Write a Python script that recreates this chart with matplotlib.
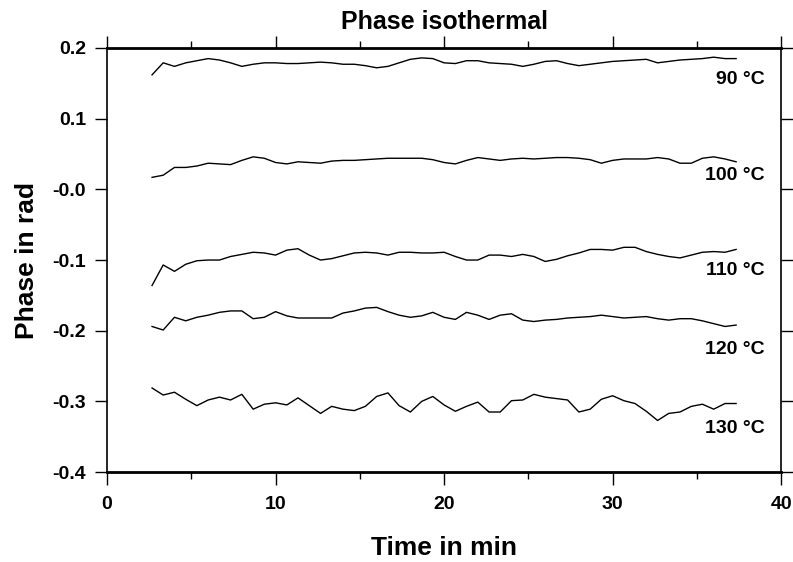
import matplotlib
matplotlib.use('Agg')
import matplotlib.pyplot as plt
from matplotlib.ticker import FixedLocator, FixedFormatter, MultipleLocator

plt.rcParams['font.family'] = ['Liberation Sans', 'DejaVu Sans']
plt.rcParams['font.weight'] = 'bold'

# Time axis (min), one sample every 40 s
time_min = [2.67, 3.33, 4.00, 4.67, 5.33, 6.00, 6.67, 7.33, 8.00, 8.67,
            9.33, 10.00, 10.67, 11.33, 12.00, 12.67, 13.33, 14.00, 14.67, 15.33,
            16.00, 16.67, 17.33, 18.00, 18.67, 19.33, 20.00, 20.67, 21.33, 22.00,
            22.67, 23.33, 24.00, 24.67, 25.33, 26.00, 26.67, 27.33, 28.00, 28.67,
            29.33, 30.00, 30.67, 31.33, 32.00, 32.67, 33.33, 34.00, 34.67, 35.33,
            36.00, 36.67, 37.33]

phase_90 = [0.162, 0.179, 0.174, 0.179, 0.182, 0.185, 0.183, 0.179, 0.174, 0.177,
            0.179, 0.179, 0.178, 0.178, 0.179, 0.180, 0.179, 0.177, 0.177, 0.175,
            0.172, 0.174, 0.179, 0.184, 0.186, 0.185, 0.179, 0.178, 0.182, 0.182,
            0.179, 0.178, 0.177, 0.174, 0.177, 0.181, 0.182, 0.178, 0.175, 0.177,
            0.179, 0.181, 0.182, 0.183, 0.184, 0.179, 0.181, 0.183, 0.184, 0.185,
            0.187, 0.185, 0.185]

phase_100 = [0.017, 0.020, 0.031, 0.031, 0.033, 0.037, 0.036, 0.035, 0.041, 0.046,
             0.044, 0.038, 0.036, 0.039, 0.038, 0.037, 0.040, 0.041, 0.041, 0.042,
             0.043, 0.044, 0.044, 0.044, 0.044, 0.042, 0.038, 0.036, 0.041, 0.045,
             0.043, 0.041, 0.043, 0.044, 0.043, 0.044, 0.045, 0.045, 0.044, 0.042,
             0.037, 0.041, 0.043, 0.043, 0.043, 0.045, 0.043, 0.037, 0.037, 0.044,
             0.046, 0.043, 0.039]

phase_110 = [-0.136, -0.107, -0.116, -0.106, -0.101, -0.100, -0.100, -0.095, -0.092, -0.089,
             -0.090, -0.093, -0.086, -0.084, -0.093, -0.100, -0.098, -0.094, -0.090, -0.089,
             -0.090, -0.093, -0.089, -0.089, -0.090, -0.090, -0.089, -0.095, -0.100, -0.100,
             -0.093, -0.093, -0.095, -0.092, -0.095, -0.102, -0.099, -0.094, -0.090, -0.085,
             -0.085, -0.086, -0.082, -0.082, -0.088, -0.092, -0.095, -0.097, -0.093, -0.089,
             -0.088, -0.089, -0.085]

phase_120 = [-0.194, -0.199, -0.181, -0.186, -0.181, -0.178, -0.174, -0.172, -0.172, -0.183,
             -0.181, -0.173, -0.179, -0.182, -0.182, -0.182, -0.182, -0.175, -0.172, -0.168,
             -0.167, -0.173, -0.178, -0.181, -0.179, -0.174, -0.181, -0.184, -0.174, -0.178,
             -0.184, -0.178, -0.176, -0.185, -0.187, -0.185, -0.184, -0.182, -0.181, -0.180,
             -0.178, -0.180, -0.182, -0.181, -0.180, -0.183, -0.185, -0.183, -0.183, -0.186,
             -0.190, -0.194, -0.192]

phase_130 = [-0.281, -0.291, -0.287, -0.297, -0.306, -0.298, -0.294, -0.298, -0.290, -0.311,
             -0.304, -0.302, -0.305, -0.295, -0.306, -0.317, -0.307, -0.311, -0.313, -0.307,
             -0.293, -0.288, -0.306, -0.315, -0.300, -0.293, -0.305, -0.314, -0.307, -0.301,
             -0.315, -0.315, -0.299, -0.298, -0.290, -0.294, -0.296, -0.298, -0.315, -0.311,
             -0.297, -0.292, -0.299, -0.303, -0.314, -0.327, -0.317, -0.315, -0.307, -0.304,
             -0.311, -0.303, -0.303]

curve_labels = ['90 °C', '100 °C', '110 °C', '120 °C', '130 °C']
label_y = [0.155, 0.020, -0.115, -0.226, -0.338]

y_ticks = [-0.4, -0.3, -0.2, -0.1, 0.0, 0.1, 0.2]
y_tick_labels = ['-0.4', '-0.3', '-0.2', '-0.1', '-0.0', '0.1', '0.2']

fig = plt.figure(figsize=(7.93, 5.62), dpi=100)
ax = fig.add_axes([0.135, 0.160, 0.850, 0.7546])

for series in [phase_90, phase_100, phase_110, phase_120, phase_130]:
    ax.plot(time_min, series, color='black', linewidth=1.0)

for text, y in zip(curve_labels, label_y):
    ax.text(39.05, y, text, ha='right', va='center', fontsize=14, fontweight='bold')

ax.set_xlim(0, 40)
ax.set_ylim(-0.4, 0.2)
ax.xaxis.set_major_locator(MultipleLocator(10))
ax.xaxis.set_minor_locator(MultipleLocator(5))
ax.yaxis.set_major_locator(FixedLocator(y_ticks))
ax.yaxis.set_major_formatter(FixedFormatter(y_tick_labels))

ax.tick_params(axis='x', which='both', direction='out', top=True, bottom=True,
               labelsize=14, pad=8, width=1.0)
ax.tick_params(axis='x', which='major', length=9)
ax.tick_params(axis='x', which='minor', length=5)
ax.tick_params(axis='y', which='major', direction='out', left=True, right=True,
               labelsize=14, pad=6, length=9, width=1.0)

for lbl in ax.get_xticklabels() + ax.get_yticklabels():
    lbl.set_fontweight('bold')

ax.spines['top'].set_linewidth(2.0)
ax.spines['bottom'].set_linewidth(2.0)
ax.spines['left'].set_linewidth(1.2)
ax.spines['right'].set_linewidth(1.2)

ax.set_title('Phase isothermal', fontsize=18, fontweight='bold', pad=14)
ax.set_xlabel('Time in min', fontsize=19, fontweight='bold', labelpad=17)
ax.set_ylabel('Phase in rad', fontsize=19, fontweight='bold', labelpad=10)

plt.savefig('out.png', dpi=100)
